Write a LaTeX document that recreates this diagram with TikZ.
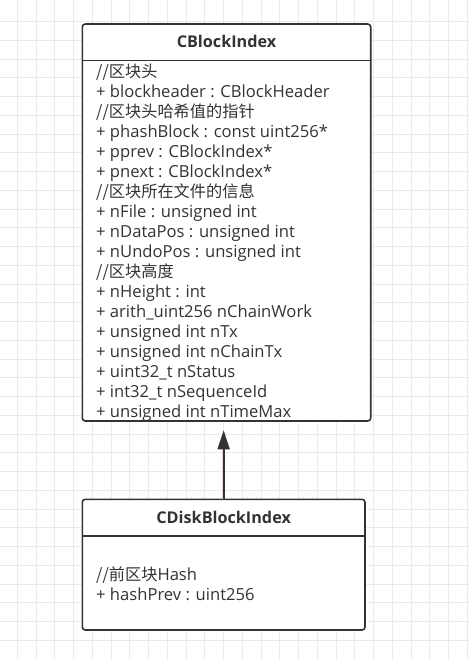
\documentclass[tikz,border=0pt]{standalone}
\usepackage{fontspec}
\setmainfont{Open Sans}
\newfontfamily\cjk{Noto Sans CJK SC}
\newcommand\zh{\cjk\fontsize{16.2bp}{20bp}\selectfont}
\usetikzlibrary{positioning,arrows.meta}
\definecolor{gridcol}{HTML}{EAEAEA}
\definecolor{umlline}{HTML}{333333}
\definecolor{umltext}{HTML}{333333}
\definecolor{glowcol}{HTML}{F0D2D2}

\begin{document}
\begin{tikzpicture}
      [
        x=1bp, y=-1bp,
        umlclass/.style={rectangle, draw=umlline, fill=white, line width=1.6bp, rounded corners=3bp, inner sep=0pt, outer sep=0pt},
        umltitle/.style={font=\fontsize{16.2bp}{20bp}\selectfont\bfseries, text=umltext, inner sep=0pt, anchor=base},
        umlmember/.style={font=\fontsize{16.6bp}{20bp}\selectfont, text=umltext, inner sep=0pt, anchor=base west},
        umlsep/.style={draw=umlline, line width=1.6bp},
        gridl/.style={draw=gridcol, line width=1bp}
      ]
      \useasboundingbox (0,0) rectangle (469,659);
      \fill[white] (0,0) rectangle (469,659);
      % background grid
      \foreach \gx in {0,...,24}
        \draw[gridl] (17.4+18.75*\gx,0) -- (17.4+18.75*\gx,659);
      \foreach \gy in {0,...,33}
        \draw[gridl] (0,21.7+18.75*\gy) -- (469,21.7+18.75*\gy);
      % CBlockIndex
      \node[umlclass, minimum width=288.4bp, minimum height=397bp, anchor=north west] (cbi) at (82.3,24) {};
      \draw[umlsep] ([yshift=-36.7bp]cbi.north west) -- ([yshift=-36.7bp]cbi.north east);
      \node[umltitle] (cbi-title) at ([yshift=-23.7bp]cbi.north) {CBlockIndex};
      \foreach \txt [count=\i] in {
          {\zh //区块头},
          + blockheader : CBlockHeader,
          {\zh //区块头哈希值的指针},
          + phashBlock : const uint256*,
          + pprev : CBlockIndex*,
          + pnext : CBlockIndex*,
          {\zh //区块所在文件的信息},
          + nFile : unsigned int,
          + nDataPos : unsigned int,
          + nUndoPos : unsigned int,
          {\zh //区块高度},
          + nHeight : int,
          + arith\_uint256 nChainWork,
          + unsigned int nTx,
          + unsigned int nChainTx,
          + uint32\_t nStatus,
          + int32\_t nSequenceId,
          + unsigned int nTimeMax}
        \node[umlmember] (cbi-m\i) at ([xshift=13.7bp,yshift={-33.5bp-20bp*\i}]cbi.north west) {\txt};
      % CDiskBlockIndex
      \node[umlclass, minimum width=282.7bp, minimum height=130.7bp, below right=78.3bp and 0bp of cbi.south west] (cdbi) {};
      \draw[umlsep] ([yshift=-36.7bp]cdbi.north west) -- ([yshift=-36.7bp]cdbi.north east);
      \node[umltitle] (cdbi-title) at ([yshift=-24bp]cdbi.north) {CDiskBlockIndex};
      \foreach \txt [count=\i] in {
          {\zh //前区块\fontspec{Open Sans}\fontsize{16.6bp}{20bp}\selectfont Hash},
          + hashPrev : uint256}
        \node[umlmember] (cdbi-m\i) at ([xshift=13.7bp,yshift={-60.7bp-20bp*\i}]cdbi.north west) {\txt};
      % inheritance
      \draw[glowcol, line width=3.4bp, shorten >=28.3bp] (cdbi.north) -- (cdbi.north |- cbi.south);
      \draw[umlline, line width=1.8bp, -{Triangle[length=19bp,width=12bp]}, shorten >=9.3bp] (cdbi.north) -- (cdbi.north |- cbi.south);
    \end{tikzpicture}
\end{document}
